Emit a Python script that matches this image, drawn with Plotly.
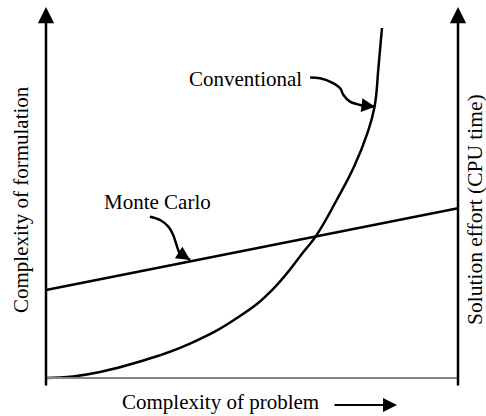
import plotly.graph_objects as go

# ---- data (arbitrary units: x 0..10 = complexity of problem, y 0..10) ----
conv_x = [0.000, 0.655, 1.311, 2.282, 3.495, 4.709, 5.510, 6.286, 6.553, 7.056, 7.476, 7.799, 7.973, 8.070, 8.155]
conv_y = [0.000, 0.041, 0.162, 0.446, 0.932, 1.676, 2.405, 3.459, 3.838, 4.811, 5.711, 6.614, 7.324, 8.405, 9.459]

mc_x = [0.0, 10.0]
mc_y = [2.38, 4.59]

# label pointer curves
conv_ptr_x = [6.41, 6.65, 6.93, 7.14, 7.22, 7.38, 7.62, 7.99]
conv_ptr_y = [8.12, 8.10, 7.99, 7.83, 7.65, 7.47, 7.38, 7.33]
mc_ptr_x = [2.52, 2.77, 2.97, 3.09, 3.17, 3.25, 3.50]
mc_ptr_y = [4.36, 4.27, 4.09, 3.86, 3.59, 3.37, 3.19]

labels = ["Conventional", "Monte Carlo"]
label_x = [4.83, 2.71]
label_y = [8.08, 4.76]

x_title = "Complexity of problem"
y_title_left = "Complexity of formulation"
y_title_right = "Solution effort (CPU time)"

FONT = dict(family="Liberation Serif, Times New Roman, serif", size=21, color="black")

fig = go.Figure()

fig.add_trace(go.Scatter(x=conv_x, y=conv_y, mode="lines", line=dict(color="black", width=2.5, shape="spline", smoothing=1.3), cliponaxis=False, hoverinfo="skip"))
fig.add_trace(go.Scatter(x=mc_x, y=mc_y, mode="lines", line=dict(color="black", width=2.5), cliponaxis=False, hoverinfo="skip"))
fig.add_trace(go.Scatter(x=conv_ptr_x, y=conv_ptr_y, mode="lines", line=dict(color="black", width=2.5, shape="spline"), hoverinfo="skip"))
fig.add_trace(go.Scatter(x=mc_ptr_x, y=mc_ptr_y, mode="lines", line=dict(color="black", width=2.5, shape="spline"), hoverinfo="skip"))

# baseline (grey)
fig.add_shape(type="line", x0=0, x1=10, y0=0, y1=0, xref="x", yref="y", line=dict(color="#858585", width=2))

annotations = []
# axis arrows
for ax_x in (0, 10):
    annotations.append(dict(x=ax_x, y=10.03, ax=ax_x, ay=-0.243, xref="x", yref="y", axref="x", ayref="y",
                            showarrow=True, arrowhead=2, arrowsize=1.3, arrowwidth=2.5, arrowcolor="black", text=""))
# pointer heads
annotations.append(dict(x=conv_ptr_x[-1], y=conv_ptr_y[-1], ax=conv_ptr_x[-2], ay=conv_ptr_y[-2], xref="x", yref="y",
                        axref="x", ayref="y", showarrow=True, arrowhead=2, arrowsize=1.1, arrowwidth=2.5, arrowcolor="black", text=""))
annotations.append(dict(x=mc_ptr_x[-1], y=mc_ptr_y[-1], ax=mc_ptr_x[-2], ay=mc_ptr_y[-2], xref="x", yref="y",
                        axref="x", ayref="y", showarrow=True, arrowhead=2, arrowsize=1.1, arrowwidth=2.5, arrowcolor="black", text=""))
# curve labels
for t, lx, ly in zip(labels, label_x, label_y):
    annotations.append(dict(x=lx, y=ly, xref="x", yref="y", text=t, showarrow=False, font=FONT,
                            xanchor="center", yanchor="middle"))

# axis titles (paper coords: plot area px x 36..468, y 4..392)
def px2paper(px, py):
    return (px - 36) / 432.0, (392 - py) / 388.0

tx, ty = px2paper(220, 402)
annotations.append(dict(x=tx, y=ty, xref="paper", yref="paper", text=x_title, showarrow=False, font=FONT,
                        xanchor="center", yanchor="middle"))
hx, hy = px2paper(397, 405)
annotations.append(dict(x=hx, y=hy, ax=-64, ay=0, xref="paper", yref="paper", showarrow=True, arrowhead=2,
                        arrowsize=1.4, arrowwidth=2, arrowcolor="black", text=""))
lx, ly = px2paper(21, 200)
annotations.append(dict(x=lx, y=ly, xref="paper", yref="paper", text=y_title_left, textangle=-90, showarrow=False,
                        font=FONT, xanchor="center", yanchor="middle"))
rx, ry = px2paper(475, 210)
annotations.append(dict(x=rx, y=ry, xref="paper", yref="paper", text=y_title_right, textangle=-90, showarrow=False,
                        font=dict(FONT, size=21.5), xanchor="center", yanchor="middle"))

fig.update_layout(
    width=486, height=416,
    margin=dict(l=36, r=18, t=4, b=24),
    paper_bgcolor="white", plot_bgcolor="white",
    showlegend=False,
    annotations=annotations,
    xaxis=dict(range=[-0.2427, 10.2427], visible=False, fixedrange=True),
    yaxis=dict(range=[-0.378, 10.108], visible=False, fixedrange=True),
)

fig.write_html("out.html", config={"displayModeBar": False},
               post_script="document.body.style.margin='0px';")
